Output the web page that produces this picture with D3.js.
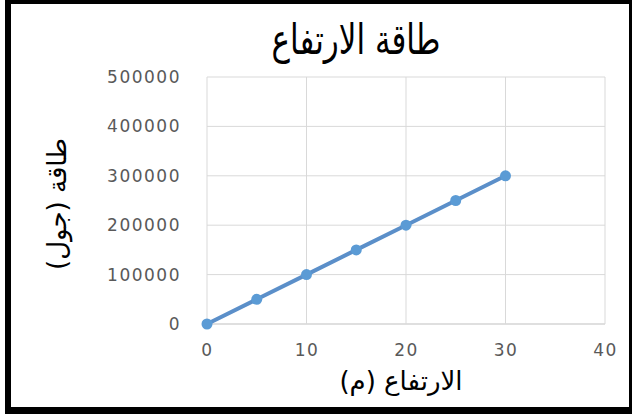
<!DOCTYPE html>
<html>
<head>
<meta charset="utf-8">
<script src="https://cdn.jsdelivr.net/npm/d3@7"></script>
<style>
  body { margin: 0; background: #fff; }
  svg { display: block; }
</style>
</head>
<body>
<div id="chart"></div>
<script>
// chart data
const heights = [0, 5, 10, 15, 20, 25, 30];
const energies = [0, 50000, 100000, 150000, 200000, 250000, 300000];
const xTicks = [0, 10, 20, 30, 40];
const yTicks = [0, 100000, 200000, 300000, 400000, 500000];

const titleText = "طاقة الارتفاع";
const xTitle = "الارتفاع (م)";
const yTitle = "طاقة (جول)";

let width = 632;
let height = 414;

let svg = d3.select("#chart")
  .append("svg")
  .attr("width", width)
  .attr("height", height);

// black frame round the picture
svg.append("rect")
  .attr("x", 5).attr("y", 0)
  .attr("width", width - 5).attr("height", height)
  .attr("fill", "#000");
svg.append("rect")
  .attr("x", 11).attr("y", 4)
  .attr("width", 629 - 11).attr("height", 407 - 4)
  .attr("fill", "#fff");

// scales
let xScale = d3.scaleLinear().domain([0, 40]).range([207, 605]);
let yScale = d3.scaleLinear().domain([0, 500000]).range([324, 77]);

// grid lines
let grid = svg.append("g").attr("class", "grid");
grid.selectAll(".hline")
  .data(yTicks)
  .enter()
  .append("line")
  .attr("x1", xScale(0)).attr("x2", xScale(40))
  .attr("y1", d => yScale(d)).attr("y2", d => yScale(d))
  .attr("stroke", d => d == 0 ? "#bfbfbf" : "#d9d9d9")
  .attr("stroke-width", 1);
grid.selectAll(".vline")
  .data(xTicks)
  .enter()
  .append("line")
  .attr("x1", d => xScale(d)).attr("x2", d => xScale(d))
  .attr("y1", yScale(0)).attr("y2", yScale(500000))
  .attr("stroke", "#d9d9d9")
  .attr("stroke-width", 1);

// axes (labels only, Excel style)
let yAxis = d3.axisLeft(yScale).tickValues(yTicks).tickFormat(d3.format("d"))
  .tickSize(0).tickPadding(26);
let yAxisG = svg.append("g")
  .attr("transform", "translate(" + xScale(0) + ",0)")
  .call(yAxis);

let xAxis = d3.axisBottom(xScale).tickValues(xTicks).tickFormat(d3.format("d"))
  .tickSize(0).tickPadding(20);
let xAxisG = svg.append("g")
  .attr("transform", "translate(0," + yScale(0) + ")")
  .call(xAxis);

[xAxisG, yAxisG].forEach(g => {
  g.select(".domain").remove();
  g.selectAll("text")
    .attr("fill", "#595959")
    .style("font-family", "DejaVu Sans, sans-serif")
    .style("font-size", "17px")
    .style("letter-spacing", "1.5px");
});

// the series line
let line = d3.line()
  .x((d, i) => xScale(heights[i]))
  .y(d => yScale(d));

svg.append("path")
  .datum(energies)
  .attr("fill", "none")
  .attr("stroke", "#5b8fc9")
  .attr("stroke-width", 4)
  .attr("d", line);

svg.append("g")
  .selectAll("circle")
  .data(energies)
  .enter()
  .append("circle")
  .attr("cx", (d, i) => xScale(heights[i]))
  .attr("cy", d => yScale(d))
  .attr("r", 5.5)
  .attr("fill", "#5b9bd5");

// titles (title font stretched a bit to get the tall Arabic letters)
svg.append("text")
  .attr("transform", "translate(356,54) scale(1,1.35)")
  .attr("text-anchor", "middle")
  .style("font-family", "DejaVu Sans, sans-serif")
  .style("font-size", "31px")
  .attr("fill", "#000")
  .text(titleText);

svg.append("text")
  .attr("x", 401).attr("y", 390)
  .attr("text-anchor", "middle")
  .style("font-family", "DejaVu Sans, sans-serif")
  .style("font-size", "26px")
  .attr("fill", "#000")
  .text(xTitle);

svg.append("text")
  .attr("transform", "translate(66,204) rotate(-90)")
  .attr("text-anchor", "middle")
  .style("font-family", "DejaVu Sans, sans-serif")
  .style("font-size", "26px")
  .attr("fill", "#000")
  .text(yTitle);
</script>
</body>
</html>
